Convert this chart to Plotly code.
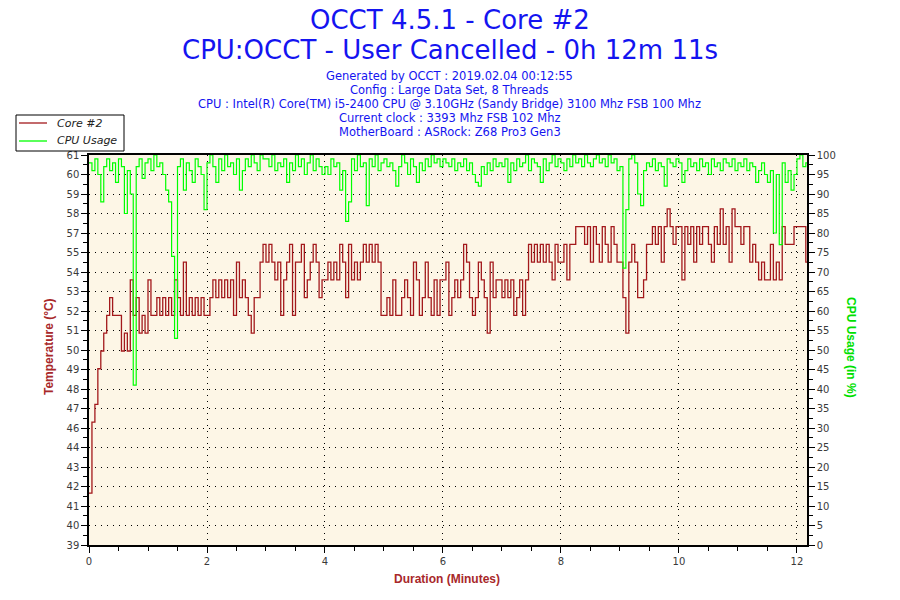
import numpy as np
import plotly.graph_objects as go

# OCCT log, one reading kept every 3 seconds
SAMPLE_SECONDS = 3

core2_temp = [
    42, 46, 47, 49, 50, 51, 52, 53, 52, 52, 52, 50, 51, 50, 54, 52, 53, 51, 52, 51,
    54, 52, 52, 53, 52, 53, 52, 53, 52, 54, 53, 52, 55, 52, 53, 52, 53, 52, 53, 52,
    52, 53, 54, 53, 54, 53, 54, 53, 54, 52, 55, 53, 54, 53, 52, 51, 53, 53, 55, 56,
    55, 56, 55, 54, 55, 52, 54, 55, 56, 52, 55, 55, 56, 53, 54, 55, 56, 55, 53, 54,
    54, 55, 54, 55, 54, 56, 55, 53, 56, 54, 55, 54, 55, 56, 55, 56, 55, 56, 55, 52,
    52, 53, 52, 54, 52, 52, 53, 54, 53, 52, 55, 54, 52, 53, 55, 53, 52, 54, 52, 54,
    54, 55, 52, 53, 54, 53, 54, 56, 55, 53, 52, 53, 55, 54, 53, 51, 55, 53, 54, 54,
    53, 54, 53, 54, 52, 53, 54, 52, 54, 56, 55, 56, 55, 56, 55, 56, 55, 54, 56, 55,
    55, 56, 54, 56, 56, 57, 57, 57, 56, 57, 55, 57, 56, 55, 57, 56, 55, 57, 56, 55,
    55, 53, 51, 55, 56, 55, 53, 53, 54, 56, 56, 57, 56, 57, 55, 57, 58, 57, 56, 57,
    57, 54, 57, 56, 57, 55, 57, 56, 57, 57, 56, 55, 57, 56, 58, 56, 57, 55, 58, 57,
    57, 56, 57, 57, 55, 56, 55, 54, 55, 54, 54, 56, 54, 55, 54, 57, 56, 56, 56, 57,
    57, 57, 57, 55, 56,
]

cpu_usage = [
    98, 96, 99, 95, 88, 97, 99, 96, 98, 93, 99, 97, 85, 96, 90, 41, 97, 99, 94, 98,
    99, 96, 100, 97, 98, 95, 91, 88, 74, 53, 97, 99, 91, 98, 96, 93, 99, 97, 95, 86,
    98, 100, 97, 93, 99, 96, 100, 97, 98, 95, 99, 91, 96, 99, 97, 100, 98, 96, 100, 99,
    99, 97, 100, 96, 98, 97, 99, 93, 98, 96, 100, 97, 99, 95, 98, 100, 96, 99, 97, 95,
    97, 95, 99, 97, 98, 91, 96, 83, 88, 99, 96, 100, 97, 98, 87, 99, 97, 100, 96, 98,
    99, 97, 98, 96, 92, 97, 100, 98, 95, 99, 97, 93, 98, 96, 99, 97, 100, 98, 99, 97,
    99, 98, 97, 99, 96, 98, 97, 99, 96, 98, 95, 93, 92, 97, 95, 98, 96, 99, 97, 98,
    97, 99, 93, 98, 96, 99, 97, 98, 100, 96, 99, 98, 97, 93, 99, 96, 98, 100, 97, 99,
    98, 96, 99, 97, 100, 98, 99, 97, 100, 98, 97, 99, 100, 98, 99, 97, 100, 98, 99, 96,
    97, 71, 86, 99, 100, 98, 90, 87, 96, 98, 97, 99, 96, 98, 97, 92, 99, 98, 97, 99,
    98, 93, 96, 99, 97, 98, 96, 99, 97, 98, 95, 99, 97, 98, 96, 99, 98, 97, 99, 96,
    98, 97, 99, 96, 98, 97, 93, 96, 98, 95, 93, 96, 80, 95, 77, 98, 93, 96, 91, 95,
    99, 100, 97, 98, 96,
]

# OCCT prints rounded labels on the temperature axis (45 and 56 get skipped)
temp_tick_labels = ["39", "40", "41", "42", "43", "44", "46", "47", "48", "49", "50",
                    "51", "52", "53", "54", "55", "57", "58", "59", "60", "61"]
cpu_tick_labels = [str(v) for v in range(0, 101, 5)]

header_lines = [
    "Generated by OCCT : 2019.02.04 00:12:55",
    "Config : Large Data Set, 8 Threads",
    "CPU : Intel(R) Core(TM) i5-2400 CPU @ 3.10GHz (Sandy Bridge) 3100 Mhz FSB 100 Mhz",
    "Current clock : 3393 Mhz FSB 102 Mhz",
    "MotherBoard : ASRock: Z68 Pro3 Gen3",
]

minutes = np.arange(len(core2_temp)) * SAMPLE_SECONDS / 60

TEMP_RANGE = [39.08, 61.03]
temp_tickvals = np.linspace(TEMP_RANGE[0], TEMP_RANGE[1], len(temp_tick_labels))
temp_minor = (temp_tickvals[:-1] + temp_tickvals[1:]) / 2

# plot area in pixels (900x600 page)
L, R, T, B = 89, 807, 155, 545
def px(x): return (x - L) / (R - L)
def py(y): return (B - y) / (B - T)

RED = "#A3191C"
GREEN = "#00FF00"
BLUE = "#1414F0"
FONT = "DejaVu Sans"
TICK_FONT = dict(family=FONT, size=10, color="#3a3a3a")
GRID = dict(showgrid=True, gridcolor="black", gridwidth=1, griddash="1px,5px")

fig = go.Figure()
fig.add_trace(go.Scatter(x=minutes, y=core2_temp, name="Core #2", mode="lines",
                         line=dict(color=RED, width=1.3, shape="hv")))
fig.add_trace(go.Scatter(x=minutes, y=cpu_usage, name="CPU Usage", mode="lines", yaxis="y2",
                         line=dict(color=GREEN, width=1.2, shape="hv")))

fig.update_layout(
    width=900, height=600, autosize=False,
    margin=dict(l=L, r=900 - R, t=T, b=600 - B),
    paper_bgcolor="white", plot_bgcolor="#FDF6E6",
    font=dict(family=FONT),
    showlegend=False,
    xaxis=dict(range=[0, 12.17], tickvals=[0, 2, 4, 6, 8, 10, 12], ticks="outside", ticklen=6,
               tickcolor="black", tickfont=TICK_FONT, showline=True, linecolor="black",
               linewidth=1.5, mirror=True, zeroline=False,
               minor=dict(dtick=0.5, ticks="outside", ticklen=4, tickcolor="black"), **GRID),
    yaxis=dict(range=TEMP_RANGE, tickvals=temp_tickvals, ticktext=temp_tick_labels,
               ticks="outside", ticklen=6, tickcolor="black", tickfont=TICK_FONT,
               showline=True, linecolor="black", linewidth=1.5, showgrid=False, zeroline=False,
               minor=dict(tickvals=temp_minor, ticks="outside", ticklen=4, tickcolor="black")),
    yaxis2=dict(range=[0, 100], overlaying="y", side="right", tickvals=list(range(0, 101, 5)),
                ticktext=cpu_tick_labels, ticks="outside", ticklen=6, tickcolor="black",
                tickfont=TICK_FONT, showline=True, linecolor="black", linewidth=1.5,
                zeroline=False,
                minor=dict(dtick=2.5, ticks="outside", ticklen=4, tickcolor="black"), **GRID),
)

# legend box drawn by hand so it keeps OCCT's compact size
shapes = [
    dict(type="rect", x0=px(16), x1=px(124), y0=py(151), y1=py(115),
         line=dict(color="black", width=1), fillcolor="white"),
    dict(type="line", x0=px(19), x1=px(47), y0=py(123), y1=py(123), line=dict(color=RED, width=1.3)),
    dict(type="line", x0=px(19), x1=px(47), y0=py(141), y1=py(141), line=dict(color=GREEN, width=1.3)),
]
for s in shapes:
    s.update(xref="paper", yref="paper", layer="above")

AXIS_TITLE = "Liberation Sans"
ann = [
    dict(text="OCCT 4.5.1 - Core #2", x=px(450), y=py(20), font=dict(size=26, color=BLUE)),
    dict(text="CPU:OCCT - User Cancelled - 0h 12m 11s", x=px(450), y=py(50),
         font=dict(size=26, color=BLUE)),
]
for i, line in enumerate(header_lines):
    ann.append(dict(text=line, x=px(450), y=py(76 + 14 * i), font=dict(size=11.5, color=BLUE)))
ann += [
    dict(text="<b>Temperature (°C)</b>", x=px(49), y=py(347), textangle=-90,
         font=dict(family=AXIS_TITLE, size=12, color="#A8282A")),
    dict(text="<b>CPU Usage (in %)</b>", x=px(851), y=py(347), textangle=90,
         font=dict(family=AXIS_TITLE, size=12, color="#00E000")),
    dict(text="<b>Duration (Minutes)</b>", x=px(447), y=py(579),
         font=dict(family=AXIS_TITLE, size=12, color="#A8282A")),
]
for a in ann:
    a.update(xanchor="center")
ann += [
    dict(text="<i>Core #2</i>", x=px(55), y=py(123), xanchor="left",
         font=dict(size=11, color="#222")),
    dict(text="<i>CPU Usage</i>", x=px(55), y=py(141), xanchor="left",
         font=dict(size=11, color="#222")),
]
for a in ann:
    a.update(xref="paper", yref="paper", showarrow=False, yanchor="middle")
fig.update_layout(annotations=ann, shapes=shapes)

# the page's default body margin would push the chart 8px off the corner
fig.write_html("out.html", config={"displayModeBar": False},
               post_script="document.body.style.margin='0';")
